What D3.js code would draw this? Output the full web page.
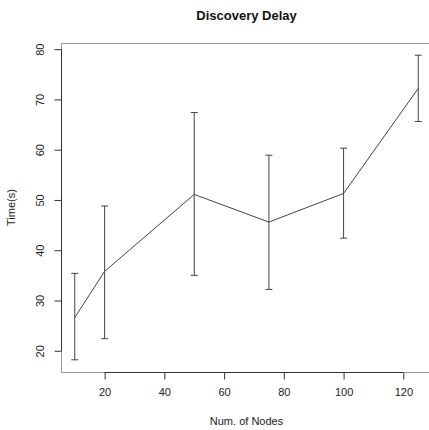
<!DOCTYPE html>
<html><head><meta charset="utf-8">
<script src="https://cdn.jsdelivr.net/npm/d3@7"></script>
<style>body{margin:0;background:#fff}svg{display:block}text{font-family:"Liberation Sans",Arial,sans-serif}</style>
</head><body>
<script>
const nodes = [10, 20, 50, 75, 100, 125];
const meanTime = [26.6, 35.8, 51.1, 45.6, 51.3, 72.2];
const upperTime = [35.4, 48.8, 67.4, 58.9, 60.3, 78.8];
const lowerTime = [18.2, 22.4, 35.0, 32.2, 42.4, 65.6];
const xTicks = [20, 40, 60, 80, 100, 120];
const yTicks = [20, 30, 40, 50, 60, 70, 80];

const W = 429, H = 430;
const svg = d3.select("body").append("svg").attr("width", W).attr("height", H);
const L = 61, R = 432, T = 43, B = 372;

const xr = [d3.min(nodes), d3.max(nodes)], xp = (xr[1]-xr[0])*0.04;
const yr = [d3.min(lowerTime), d3.max(upperTime)], yp = (yr[1]-yr[0])*0.04;
const x = d3.scaleLinear().domain([xr[0]-xp, xr[1]+xp]).range([L, R]);
const y = d3.scaleLinear().domain([yr[0]-yp, yr[1]+yp]).range([B, T]);

// box
svg.append("rect").attr("x", L+0.5).attr("y", T+0.5).attr("width", R-L).attr("height", B-T)
  .attr("fill", "none").attr("stroke", "#999").attr("stroke-width", 1);

// x axis
const xa = svg.append("g").attr("transform", `translate(0,${B+0.5})`)
  .call(d3.axisBottom(x).tickValues(xTicks).tickSize(7).tickPadding(9).tickSizeOuter(0));
xa.select(".domain").remove();
svg.append("line").attr("x1", x(xTicks[0])).attr("x2", x(xTicks[xTicks.length-1]))
  .attr("y1", B+0.5).attr("y2", B+0.5).attr("stroke", "#333");
xa.selectAll(".tick line").attr("stroke", "#333");
xa.selectAll("text").attr("font-size", 11).attr("fill", "#222")
  .attr("font-family", '"Liberation Sans",Arial,sans-serif');

// y axis
const ya = svg.append("g").attr("transform", `translate(${L+0.5},0)`)
  .call(d3.axisLeft(y).tickValues(yTicks).tickSize(7).tickSizeOuter(0));
ya.select(".domain").remove();
svg.append("line").attr("y1", y(yTicks[0])).attr("y2", y(yTicks[yTicks.length-1]))
  .attr("x1", L+0.5).attr("x2", L+0.5).attr("stroke", "#333");
ya.selectAll(".tick line").attr("stroke", "#333");
ya.selectAll(".tick text").remove();
ya.selectAll(".tick").append("text")
  .attr("transform", "translate(-21,0) rotate(-90)")
  .attr("text-anchor", "middle").attr("dy", "0.35em")
  .attr("font-size", 11).attr("fill", "#222").text(d => d);

// error bars
const g = svg.append("g");
nodes.forEach((n, i) => {
  const cx = x(n);
  g.append("line").attr("x1", cx).attr("x2", cx).attr("y1", y(lowerTime[i])).attr("y2", y(upperTime[i]))
    .attr("stroke", "#444").attr("stroke-width", 1);
  [upperTime[i], lowerTime[i]].forEach(v => {
    g.append("line").attr("x1", cx-3.5).attr("x2", cx+3.5).attr("y1", y(v)).attr("y2", y(v))
      .attr("stroke", "#444").attr("stroke-width", 1);
  });
});

// line
svg.append("path").datum(nodes.map((n, i) => [n, meanTime[i]]))
  .attr("d", d3.line().x(d => x(d[0])).y(d => y(d[1])))
  .attr("fill", "none").attr("stroke", "#444").attr("stroke-width", 1);

// titles
svg.append("text").attr("x", (L+R)/2).attr("y", 20).attr("text-anchor", "middle")
  .attr("font-size", 13).attr("font-weight", "bold").attr("fill", "#111").text("Discovery Delay");
svg.append("text").attr("x", (L+R)/2).attr("y", 425).attr("text-anchor", "middle")
  .attr("font-size", 11).attr("fill", "#222").text("Num. of Nodes");
svg.append("text").attr("transform", `translate(15,${(T+B)/2}) rotate(-90)`).attr("text-anchor", "middle")
  .attr("font-size", 11).attr("fill", "#222").text("Time(s)");
</script>
</body></html>
